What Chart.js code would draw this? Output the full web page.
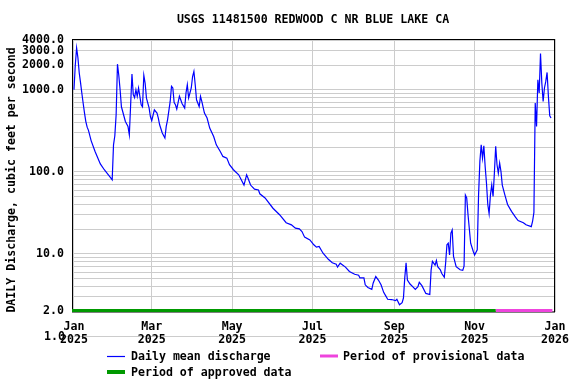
<!DOCTYPE html>
<html>
<head>
<meta charset="UTF-8">
<title>USGS 11481500 REDWOOD C NR BLUE LAKE CA</title>
<script src="https://cdn.jsdelivr.net/npm/chart.js@4.4.1/dist/chart.umd.min.js"></script>
<style>
  body { margin: 0; background: #fff; }
  #grafico { display: block; }
</style>
</head>
<body>
<canvas id="grafico" width="576" height="384"></canvas>
<script>
// day of year (0 = Jan 1 2025) and daily mean discharge, ft3/s
var days = [0,1,2,3,4,5,6,7,8,9,10,11,13,16,20,23,27,29,30,31,32,33,34,35,36,39,41,42,43,44,45,46,47,48,49,51,52,53,54,55,57,58,59,61,63,64,65,67,69,70,71,73,74,75,76,77,78,80,81,82,84,85,86,87,89,90,91,92,93,95,96,97,99,101,103,106,108,111,113,116,118,121,125,129,131,132,134,137,140,141,145,151,156,161,165,168,171,173,175,179,182,184,186,189,193,196,199,200,202,206,209,213,216,217,220,221,223,226,227,229,231,233,235,237,238,241,244,245,247,249,250,251,252,253,255,257,259,261,262,264,267,270,271,272,274,275,276,278,279,281,282,283,284,285,286,287,288,290,293,295,296,297,298,299,301,303,304,306,307,308,309,310,311,312,313,314,315,316,317,318,319,320,321,322,323,324,325,327,329,332,335,337,341,343,347,348,349,350,351,352,353,354,355,356,357,358,359,360,361,362];
var flows = [1000,2000,3230,2440,1600,1210,900,680,520,410,350,320,240,177,125,106,88,80,213,275,500,2050,1500,1000,620,410,356,282,656,1550,870,800,1000,830,1050,656,620,1500,1200,790,600,472,419,570,520,452,374,297,258,357,430,720,1100,1050,700,656,582,834,755,680,598,912,1150,793,1050,1450,1670,1150,755,625,828,720,520,452,341,269,213,177,154,147,122,106,92,69,92,84,69,61.5,60,54,48,36,30,24,22.6,20.6,20.2,18.7,16,14.8,12.9,12.1,12.3,10.2,8.6,7.8,7.5,6.9,7.7,6.9,6.1,5.65,5.5,5.1,5.1,4.2,3.9,3.7,4.4,5.3,4.8,4.2,3.4,3.0,2.8,2.78,2.7,2.8,2.4,2.55,2.9,5.1,7.8,4.8,4.3,4.0,3.7,4.0,4.5,4.1,3.3,3.2,6.4,8.1,7.3,8.3,7.0,6.4,5.8,5.2,7.7,12.9,13.5,9.7,17.9,19.6,9.3,7.0,6.4,6.3,7.1,52,48,30,13.5,10.7,9.7,11.2,52,134,213,147,207,116,73,40,31,52,69,50,96,205,122,96,128,101,69,52,40,33,28,25.5,24,22.6,21.5,25,32,690,357,1320,912,2760,1208,720,1050,1262,1625,828,482,452];

var monthTicks = [0, 59, 120, 181, 243, 304, 365];
var monthLabels = [['Jan','2025'], ['Mar','2025'], ['May','2025'], ['Jul','2025'], ['Sep','2025'], ['Nov','2025'], ['Jan','2026']];
var yTicks = [2,3,4,5,6,7,8,9,10,20,30,40,50,60,70,80,90,100,200,300,400,500,600,700,800,900,1000,2000,3000,4000];
var yLabelled = [2, 10, 100, 1000, 2000, 3000, 4000];

var approvedPeriod = [-1.5, 320];
var provisionalPeriod = [320, 363];
var bandLevel = 2.05;

var fam = '"DejaVu Sans Mono", monospace';
var fonte = { family: fam, size: 11.6, weight: 'bold', lineHeight: 1.1 };
var fonteCss = 'bold 11.6px ' + fam;

var marco = {
  id: 'marco',
  beforeDraw: function(chart) {
    var c = chart.ctx;
    c.save();
    c.fillStyle = '#fff';
    c.fillRect(0, 0, chart.width, chart.height);
    // stray 1.0 grid line below the plot, as in the original
    var y1 = Math.round(chart.scales.y.getPixelForValue(1)) + 0.5;
    c.strokeStyle = '#cccccc';
    c.lineWidth = 1;
    c.beginPath();
    c.moveTo(66, y1);
    c.lineTo(567, y1);
    c.stroke();
    c.restore();
  },
  beforeDatasetsDraw: function(chart) {
    var a = chart.chartArea, c = chart.ctx;
    c.save();
    c.strokeStyle = '#000';
    c.lineWidth = 1;
    c.strokeRect(a.left + 0.5, a.top + 0.5, a.right - a.left - 1, a.bottom - a.top - 0.5);
    c.restore();
  },
  afterDraw: function(chart) {
    var c = chart.ctx;
    c.save();
    c.fillStyle = '#000';
    c.font = fonteCss;
    c.textBaseline = 'middle';
    c.textAlign = 'center';
    c.fillText('USGS 11481500 REDWOOD C NR BLUE LAKE CA', 313, 20);

    c.textAlign = 'right';
    c.fillText('1.0', 65, Math.round(chart.scales.y.getPixelForValue(1)) + 1);

    c.save();
    c.translate(12, 180);
    c.rotate(-Math.PI / 2);
    c.textAlign = 'center';
    c.fillText('DAILY Discharge, cubic feet per second', 0, 0);
    c.restore();

    // legend
    c.textAlign = 'left';
    c.lineWidth = 1.2;
    c.strokeStyle = '#0000ff';
    c.beginPath(); c.moveTo(107, 356.5); c.lineTo(125, 356.5); c.stroke();
    c.fillText('Daily mean discharge', 131, 357);

    c.lineWidth = 4;
    c.strokeStyle = '#009900';
    c.beginPath(); c.moveTo(107, 372); c.lineTo(125, 372); c.stroke();
    c.fillText('Period of approved data', 131, 373);

    c.lineWidth = 3;
    c.strokeStyle = '#ee44dd';
    c.beginPath(); c.moveTo(320, 356); c.lineTo(338, 356); c.stroke();
    c.fillText('Period of provisional data', 343, 357);
    c.restore();
  }
};

var ctx = document.getElementById('grafico');
new Chart(ctx, {
  type: 'line',
  data: {
    datasets: [
      {
        label: 'Daily mean discharge',
        data: days.map(function(d, i) { return { x: d, y: flows[i] }; }),
        borderColor: '#0000ff', borderWidth: 1.2, pointRadius: 0, tension: 0, order: 0
      },
      {
        label: 'Period of approved data',
        data: [{ x: approvedPeriod[0], y: bandLevel }, { x: approvedPeriod[1], y: bandLevel }],
        borderColor: '#009900', borderWidth: 3, pointRadius: 0, order: 1
      },
      {
        label: 'Period of provisional data',
        data: [{ x: provisionalPeriod[0], y: bandLevel }, { x: provisionalPeriod[1], y: bandLevel }],
        borderColor: '#ee44dd', borderWidth: 3, pointRadius: 0, order: 1
      }
    ]
  },
  options: {
    responsive: false,
    animation: false,
    devicePixelRatio: 1,
    layout: { padding: { left: 0, top: 39, right: 21, bottom: 0 } },
    plugins: { legend: { display: false }, tooltip: { enabled: false } },
    scales: {
      x: {
        type: 'linear', min: -1.5, max: 365,
        afterBuildTicks: function(s) { s.ticks = monthTicks.map(function(v) { return { value: v }; }); },
        afterFit: function(s) { s.height = 72; s.paddingLeft = 0; s.paddingRight = 0; },
        ticks: {
          callback: function(v) { return monthLabels[monthTicks.indexOf(v)]; },
          font: fonte, color: '#000', padding: 9, maxRotation: 0, autoSkip: false
        },
        grid: { color: '#cccccc', drawTicks: false },
        border: { display: false }
      },
      y: {
        type: 'logarithmic', min: 1.96, max: 4150,
        afterBuildTicks: function(s) { s.ticks = yTicks.map(function(v) { return { value: v }; }); },
        afterFit: function(s) { s.width = 72; s.paddingTop = 0; s.paddingBottom = 0; },
        ticks: {
          callback: function(v) { return yLabelled.indexOf(v) >= 0 ? v.toFixed(1) : ''; },
          font: fonte, color: '#000', padding: 8, autoSkip: false
        },
        grid: { color: '#cccccc', drawTicks: false },
        border: { display: false }
      }
    }
  },
  plugins: [marco]
});
</script>
</body>
</html>
